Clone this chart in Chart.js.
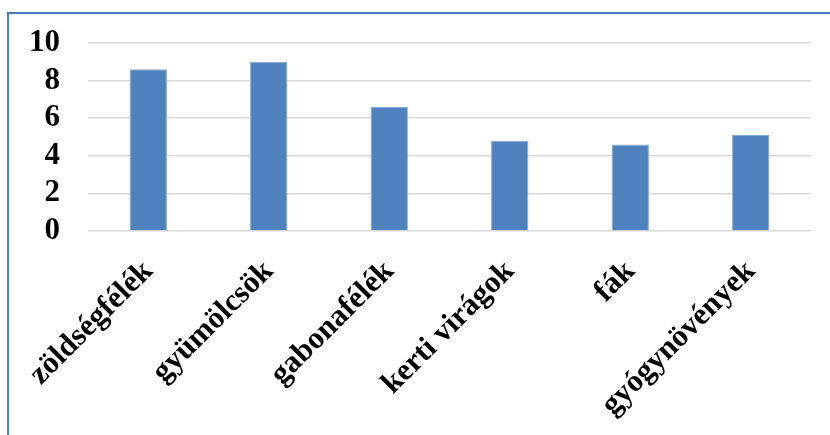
<!DOCTYPE html>
<html>
<head>
<meta charset="utf-8">
<script src="https://cdn.jsdelivr.net/npm/chart.js@4/dist/chart.umd.min.js"></script>
<style>
  html, body { margin: 0; padding: 0; background: #fff; }
  #wrap { position: relative; width: 830px; height: 435px; overflow: hidden; }
  #frame {
    position: absolute; left: 7px; top: 12px; width: 900px; height: 500px;
    border-left: 2px solid #4a7ebb; border-top: 2px solid #4a7ebb;
  }
  canvas { position: absolute; left: 0; top: 0; }
  .probe { font: bold 28px 'Liberation Serif'; position: absolute; left: -999px; }
</style>
</head>
<body>
<div id="wrap">
  <div id="frame"></div>
  <canvas id="c" width="830" height="435"></canvas>
</div>
<span class="probe">zöldségfélék 0123456789</span>
<script>
// Növénycsoportok és értékeik
const categories = ['zöldségfélék', 'gyümölcsök', 'gabonafélék', 'kerti virágok', 'fák', 'gyógynövények'];
const values = [8.6, 9.0, 6.6, 4.8, 4.6, 5.1];
const yMin = 0, yMax = 10, yStep = 2;

const serif = "'Liberation Serif', 'Times New Roman', Times, serif";

function draw() {
  new Chart(document.getElementById('c'), {
    type: 'bar',
    data: {
      labels: categories,
      datasets: [{
        data: values,
        backgroundColor: '#4f81bd',
        borderColor: '#86a9d6',
        borderWidth: 1,
        categoryPercentage: 1,
        barPercentage: 0.31
      }]
    },
    options: {
      responsive: false,
      animation: false,
      devicePixelRatio: 1,
      layout: { padding: { left: 0, right: 19, top: 43, bottom: 0 } },
      plugins: { legend: { display: false }, tooltip: { enabled: false } },
      scales: {
        x: {
          grid: { display: false },
          border: { display: false },
          ticks: {
            autoSkip: false,
            minRotation: 45,
            maxRotation: 45,
            padding: 10,
            color: '#000',
            font: { family: serif, size: 31, weight: 'bold', lineHeight: 1.6 }
          },
          afterFit(scale) { scale.height = 204; }
        },
        y: {
          min: yMin,
          max: yMax,
          grid: { color: '#d9d9d9', lineWidth: 1.5, drawTicks: false },
          border: { display: false },
          ticks: {
            stepSize: yStep,
            autoSkip: false,
            padding: 28,
            color: '#000',
            font: { family: serif, size: 31, weight: 'bold' }
          },
          afterFit(scale) {
            scale.width = 88;
            scale.paddingTop = 0;
            scale.paddingBottom = 0;
          }
        }
      }
    }
  });
}

const fontReady = document.fonts && document.fonts.load
  ? document.fonts.load("bold 28px 'Liberation Serif'").catch(() => {})
  : Promise.resolve();
fontReady.then(draw);
</script>
</body>
</html>
